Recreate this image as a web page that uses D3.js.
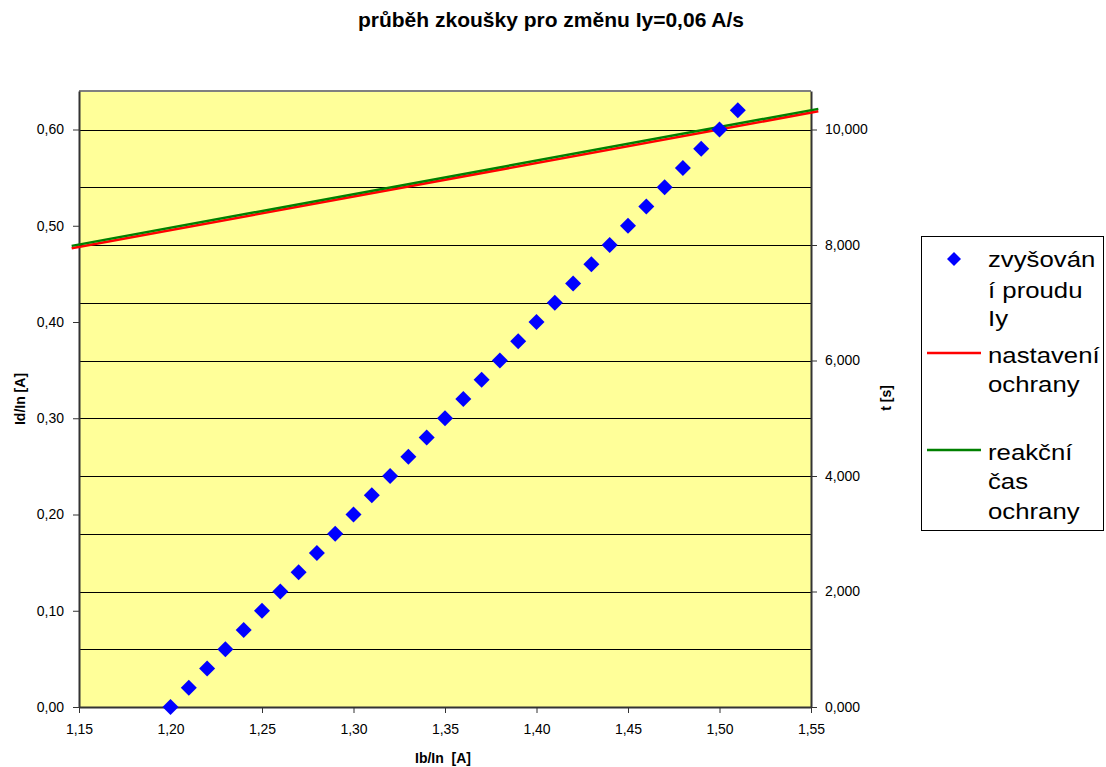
<!DOCTYPE html>
<html><head><meta charset="utf-8">
<script src="https://cdn.jsdelivr.net/npm/d3@7"></script>
<style>body{margin:0;background:#fff;font-family:"Liberation Sans",Arial,sans-serif}</style>
</head><body><svg id="c" width="1106" height="767"></svg>
<script>
// Data
const scatterX = [1.20,1.21,1.22,1.23,1.24,1.25,1.26,1.27,1.28,1.29,1.30,1.31,1.32,1.33,1.34,1.35,1.36,1.37,1.38,1.39,1.40,1.41,1.42,1.43,1.44,1.45,1.46,1.47,1.48,1.49,1.50,1.51];
const scatterY = [0.00,0.02,0.04,0.06,0.08,0.10,0.12,0.14,0.16,0.18,0.20,0.22,0.24,0.26,0.28,0.30,0.32,0.34,0.36,0.38,0.40,0.42,0.44,0.46,0.48,0.50,0.52,0.54,0.56,0.58,0.60,0.62];
const lineX = [1.146, 1.554];
const nastaveniT = [7.943, 10.315];
const reakcniT = [7.985, 10.357];
const xTicks = [1.15,1.20,1.25,1.30,1.35,1.40,1.45,1.50,1.55];
const yLeftTicks = [0,0.1,0.2,0.3,0.4,0.5,0.6];
const yRightTicks = [0,2,4,6,8,10];
const yRightGrid = [1,2,3,4,5,6,7,8,9,10];
const legendItems = [
  {type:"diamond", lines:["zvyšován","í proudu","Iy"]},
  {type:"red", lines:["nastavení","ochrany"]},
  {type:"green", lines:["reakční","čas","ochrany"]}
];

const svg = d3.select("#c");
const L=79, R=811, T=91, B=707;
const x = d3.scaleLinear([1.15,1.55],[L,R]);
const yL = d3.scaleLinear([0,0.64],[B,T]);
const yR = d3.scaleLinear([0,10.6667],[B,T]);
const comma = f => v => d3.format(f)(v).replace(".",",");

// title
svg.append("text").attr("x",551).attr("y",27).attr("text-anchor","middle")
  .attr("font-weight","bold").attr("font-size",21).text("průběh zkoušky pro změnu Iy=0,06 A/s");

// plot bg
svg.append("rect").attr("x",L).attr("y",T).attr("width",R-L).attr("height",B-T).attr("fill","#FFFF99");
// top border
svg.append("line").attr("x1",L).attr("x2",R).attr("y1",T).attr("y2",T).attr("stroke","#808080").attr("stroke-width",2);

// gridlines
svg.append("g").selectAll("line").data(yRightGrid).join("line")
  .attr("x1",L).attr("x2",R).attr("y1",d=>Math.round(yR(d))+0.5).attr("y2",d=>Math.round(yR(d))+0.5)
  .attr("stroke","#000").attr("stroke-width",1);

// axes
const axStyle = g => { g.select(".domain").attr("stroke","#333").attr("stroke-width",2);
  g.selectAll(".tick line").attr("stroke","#333");
  g.selectAll("text").attr("font-family","Liberation Sans, Arial, sans-serif").attr("font-size",14).attr("fill","#000"); };
svg.append("g").attr("transform",`translate(0,${B})`)
  .call(d3.axisBottom(x).tickValues(xTicks).tickFormat(comma(".2f")).tickSize(6).tickSizeOuter(0).tickPadding(11)).call(axStyle);
svg.append("g").attr("transform",`translate(${L},0)`)
  .call(d3.axisLeft(yL).tickValues(yLeftTicks).tickFormat(comma(".2f")).tickSize(6).tickSizeOuter(0).tickPadding(9)).call(axStyle);
svg.append("g").attr("transform",`translate(${R},0)`)
  .call(d3.axisRight(yR).tickValues(yRightTicks).tickFormat(comma(".3f")).tickSize(6).tickSizeOuter(0).tickPadding(8)).call(axStyle);

// axis titles
svg.append("text").attr("transform","translate(25,399) rotate(-90)").attr("text-anchor","middle")
  .attr("font-weight","bold").attr("font-size",14).text("Id/In [A]");
svg.append("text").attr("transform","translate(891,398) rotate(-90)").attr("text-anchor","middle")
  .attr("font-weight","bold").attr("font-size",14).text("t [s]");
svg.append("text").attr("x",443).attr("y",763).attr("text-anchor","middle")
  .attr("font-weight","bold").attr("font-size",14).attr("xml:space","preserve").text("Ib/In  [A]");

// lines
const ln = d3.line().x(d=>x(d[0])).y(d=>yR(d[1]));
svg.append("path").attr("d",ln(lineX.map((v,i)=>[v,nastaveniT[i]]))).attr("stroke","#FF0000").attr("stroke-width",2.5).attr("fill","none");
svg.append("path").attr("d",ln(lineX.map((v,i)=>[v,reakcniT[i]]))).attr("stroke","#008000").attr("stroke-width",2.5).attr("fill","none");

// diamonds
const dia = "M0,-8L8,0L0,8L-8,0Z";
svg.append("g").selectAll("path").data(scatterX.map((v,i)=>[v,scatterY[i]])).join("path")
  .attr("d",dia).attr("transform",d=>`translate(${x(d[0])},${yL(d[1])})`).attr("fill","#0000FF");

// legend
const lg = svg.append("g");
lg.append("rect").attr("x",921.5).attr("y",236.5).attr("width",182).attr("height",294).attr("fill","#fff").attr("stroke","#000");
const rowY = [259,290,318,355,384,452,481,511];
let k=0;
legendItems.forEach(it=>{
  const y0 = rowY[k];
  if(it.type==="diamond") lg.append("path").attr("d","M0,-7L7,0L0,7L-7,0Z").attr("transform",`translate(954,${y0})`).attr("fill","#0000FF");
  else lg.append("line").attr("x1",927).attr("x2",981).attr("y1",y0-2).attr("y2",y0-2).attr("stroke",it.type==="red"?"#FF0000":"#008000").attr("stroke-width",2.5);
  it.lines.forEach(t=>{ lg.append("text").attr("transform",`translate(988,${rowY[k]}) scale(1.12,1)`).attr("dy","0.35em").attr("font-size",23).text(t); k++; });
});
</script></body></html>
